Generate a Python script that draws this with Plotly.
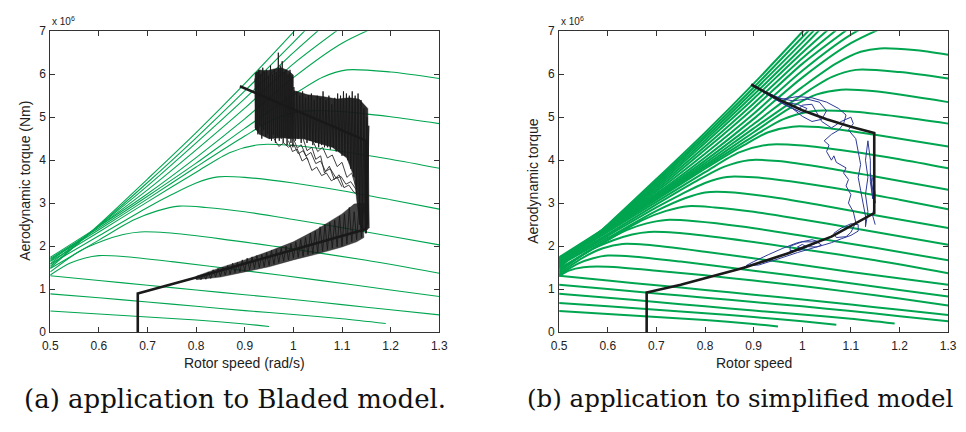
import plotly.graph_objects as go

# ---------------- data: aerodynamic torque curves (x = rotor speed rad/s, y = torque 1e6 Nm), one per wind speed
v3 = [(0.5, 0.49), (0.6, 0.42), (0.7, 0.35), (0.8, 0.28), (0.9, 0.19), (0.95, 0.13)]
v3_5 = [(0.5, 0.68), (0.6, 0.6), (0.7, 0.52), (0.8, 0.44), (0.9, 0.35), (1.0, 0.25), (1.07, 0.17)]
v4 = [(0.5, 0.89), (0.6, 0.8), (0.7, 0.7), (0.8, 0.6), (0.9, 0.5), (1.0, 0.41), (1.1, 0.31), (1.19, 0.2)]
v4_5 = [(0.5, 1.1), (0.6, 1.0), (0.7, 0.9), (0.8, 0.8), (0.9, 0.7), (1.0, 0.6), (1.1, 0.49), (1.2, 0.37), (1.3, 0.25)]
v5 = [(0.5, 1.31), (0.6, 1.2), (0.7, 1.09), (0.8, 0.98), (0.9, 0.87), (1.0, 0.76), (1.1, 0.64), (1.2, 0.52), (1.3, 0.40)]
v5_5 = [(0.5, 1.3), (0.52, 1.43), (0.55, 1.51), (0.6, 1.52), (0.7, 1.43), (0.8, 1.32), (0.9, 1.2), (1.0, 1.07),
        (1.1, 0.93), (1.2, 0.78), (1.3, 0.62)]
v6 = [(0.5, 1.33), (0.54, 1.6), (0.57, 1.72), (0.6, 1.78), (0.65, 1.76), (0.75, 1.64), (0.9, 1.43), (1.05, 1.21),
      (1.2, 0.98), (1.3, 0.83)]
v6_5 = [(0.5, 1.36), (0.55, 1.74), (0.59, 1.95), (0.63, 2.05), (0.68, 2.03), (0.8, 1.87), (0.95, 1.64), (1.1, 1.4),
        (1.3, 1.1)]
v7 = [(0.5, 1.4), (0.56, 1.88), (0.61, 2.13), (0.65, 2.27), (0.685, 2.33), (0.74, 2.31), (0.85, 2.17), (1.0, 1.93),
      (1.15, 1.67), (1.3, 1.37)]
v7_5 = [(0.5, 1.44), (0.58, 2.02), (0.64, 2.38), (0.68, 2.53), (0.72, 2.61), (0.78, 2.58), (0.88, 2.45), (1.0, 2.24),
        (1.15, 1.96), (1.3, 1.67)]
v8 = [(0.5, 1.48), (0.6, 2.14), (0.67, 2.6), (0.72, 2.82), (0.765, 2.93), (0.82, 2.9), (0.9, 2.8), (1.0, 2.62),
      (1.1, 2.43), (1.2, 2.23), (1.3, 2.03)]
v8_5 = [(0.5, 1.55), (0.6, 2.19), (0.7, 2.82), (0.76, 3.12), (0.8, 3.25), (0.86, 3.25), (0.95, 3.12), (1.05, 2.93),
        (1.15, 2.72), (1.3, 2.42)]
v9 = [(0.5, 1.58), (0.6, 2.24), (0.7, 2.9), (0.75, 3.2), (0.8, 3.47), (0.845, 3.61), (0.9, 3.6), (1.0, 3.47),
      (1.1, 3.29), (1.2, 3.08), (1.3, 2.86)]
v9_5 = [(0.5, 1.61), (0.6, 2.28), (0.7, 2.97), (0.78, 3.5), (0.84, 3.85), (0.89, 4.0), (0.95, 3.98), (1.05, 3.82),
        (1.15, 3.62), (1.3, 3.31)]
v10 = [(0.5, 1.64), (0.6, 2.33), (0.7, 3.03), (0.8, 3.72), (0.87, 4.18), (0.93, 4.36), (1.0, 4.34), (1.1, 4.2),
       (1.2, 4.02), (1.3, 3.81)]
v10_5 = [(0.5, 1.67), (0.6, 2.36), (0.7, 3.08), (0.8, 3.8), (0.88, 4.35), (0.93, 4.65), (0.98, 4.78), (1.05, 4.75),
         (1.15, 4.59), (1.3, 4.32)]
v11 = [(0.5, 1.69), (0.6, 2.38), (0.7, 3.1), (0.8, 3.84), (0.9, 4.56), (0.96, 4.95), (1.02, 5.14), (1.1, 5.13),
       (1.2, 5.01), (1.3, 4.85)]
v11_5 = [(0.5, 1.7), (0.6, 2.4), (0.7, 3.13), (0.8, 3.88), (0.9, 4.65), (0.98, 5.25), (1.03, 5.53), (1.08, 5.64),
         (1.15, 5.6), (1.3, 5.35)]
v12 = [(0.5, 1.71), (0.6, 2.42), (0.7, 3.16), (0.8, 3.93), (0.9, 4.74), (1.0, 5.52), (1.06, 5.93), (1.11, 6.1),
       (1.2, 6.05), (1.3, 5.9)]
v12_5 = [(0.5, 1.72), (0.6, 2.44), (0.7, 3.19), (0.8, 3.99), (0.9, 4.84), (1.0, 5.7), (1.07, 6.25), (1.12, 6.52),
         (1.16, 6.6), (1.23, 6.56), (1.3, 6.45)]
v13 = [(0.5, 1.74), (0.6, 2.46), (0.7, 3.22), (0.8, 4.06), (0.9, 4.96), (1.0, 5.92), (1.1, 6.72), (1.2, 7.25)]
v13_5 = [(0.5, 1.7), (0.6, 2.46), (0.7, 3.27), (0.8, 4.15), (0.9, 5.08), (1.0, 6.08), (1.1, 6.92), (1.2, 7.5)]
v14 = [(0.5, 1.66), (0.6, 2.46), (0.7, 3.31), (0.8, 4.24), (0.9, 5.21), (1.0, 6.24), (1.1, 7.1)]
v14_5 = [(0.5, 1.62), (0.6, 2.46), (0.7, 3.36), (0.8, 4.32), (0.9, 5.32), (1.0, 6.37), (1.1, 7.3)]
v15 = [(0.5, 1.59), (0.6, 2.47), (0.7, 3.4), (0.8, 4.4), (0.9, 5.43), (1.0, 6.5), (1.1, 7.5)]
v15_5 = [(0.5, 1.56), (0.6, 2.47), (0.7, 3.44), (0.8, 4.46), (0.9, 5.52), (1.0, 6.62), (1.05, 7.2)]
v16 = [(0.5, 1.53), (0.6, 2.48), (0.7, 3.48), (0.8, 4.52), (0.9, 5.61), (1.0, 6.74), (1.05, 7.32)]
v16_5 = [(0.5, 1.51), (0.6, 2.49), (0.7, 3.52), (0.8, 4.58), (0.9, 5.69), (1.0, 6.86), (1.05, 7.45)]
v17 = [(0.5, 1.49), (0.6, 2.5), (0.7, 3.56), (0.8, 4.64), (0.9, 5.78), (1.0, 6.98), (1.05, 7.6)]

left_curves = [v3, v4, v5, v6, v7, v8, v9, v10, v11, v12, v13, v14, v15, v16, v17]
right_curves = [v3, v3_5, v4, v4_5, v5, v5_5, v6, v6_5, v7, v7_5, v8, v8_5, v9, v9_5, v10, v10_5,
                v11, v11_5, v12, v12_5, v13, v13_5, v14, v14_5, v15, v15_5, v16, v16_5, v17]

# reference (controller) trajectories
ref_a_x = [0.68, 0.68, 0.8, 1.15, 1.15, 0.89]
ref_a_y = [0.0, 0.9, 1.27, 2.4, 4.45, 5.72]
ref_b_x = [0.68, 0.68, 0.75, 0.88, 0.97, 1.06, 1.148, 1.148, 1.1, 1.05, 1.0, 0.95, 0.895]
ref_b_y = [0.0, 0.92, 1.1, 1.5, 1.83, 2.22, 2.77, 4.63, 4.78, 4.95, 5.16, 5.42, 5.76]

# Bladed simulation: outline of the densest part of the trace (upper block + vertical band)
bladed_core = [
    (0.921, 4.75), (0.921, 6.02), (0.93, 6.1), (0.945, 6.08), (0.96, 6.12), (0.975, 6.15), (0.99, 6.08), (1.0, 5.98),
    (1.0, 5.62), (1.03, 5.52), (1.06, 5.48), (1.09, 5.42), (1.115, 5.45), (1.135, 5.42), (1.153, 5.2), (1.156, 2.42),
    (1.14, 2.35), (1.132, 2.9), (1.125, 3.6), (1.11, 4.05), (1.08, 4.3), (1.05, 4.4), (1.02, 4.5), (1.0, 4.5),
    (0.975, 4.52), (0.95, 4.5), (0.93, 4.6),
]
# Bladed simulation: outline of the lower (partial-load) band
bladed_band = [
    (0.8, 1.3), (0.85, 1.5), (0.9, 1.68), (0.95, 1.88), (1.0, 2.1), (1.05, 2.4), (1.1, 2.75), (1.125, 2.98),
    (1.14, 3.0), (1.145, 2.2), (1.13, 2.1), (1.1, 1.98), (1.05, 1.82), (1.0, 1.68), (0.95, 1.52), (0.9, 1.4),
    (0.85, 1.28), (0.8, 1.22),
]
# Bladed simulation trace strokes
bladed = [
    (0.921, 5.9), (0.923, 4.7), (0.925, 6.05), (0.927, 4.6), (0.929, 6.1), (0.931, 4.8), (0.933, 6.0), (0.935, 4.5),
    (0.937, 6.15), (0.939, 4.7), (0.941, 6.05), (0.943, 4.55), (0.945, 6.1), (0.947, 4.6), (0.949, 5.95), (0.951, 4.5),
    (0.953, 6.2), (0.955, 4.45), (0.957, 6.0), (0.959, 4.6), (0.961, 6.1), (0.963, 4.4), (0.965, 6.05), (0.967, 4.55),
    (0.969, 6.5), (0.971, 4.45), (0.973, 6.2), (0.975, 4.5), (0.977, 6.3), (0.979, 4.4), (0.981, 6.05), (0.983, 4.55),
    (0.985, 6.1), (0.987, 4.35), (0.989, 6.0), (0.991, 4.5), (0.993, 6.1), (0.995, 4.4), (0.997, 5.95), (0.999, 4.3),
    (1.001, 5.7), (1.004, 4.45), (1.007, 5.6), (1.010, 4.5), (1.013, 5.5), (1.016, 4.4), (1.019, 5.6), (1.022, 4.5),
    (1.025, 5.45), (1.028, 4.4), (1.031, 5.5), (1.034, 4.45), (1.037, 5.55), (1.040, 4.35), (1.043, 5.4), (1.046, 4.4),
    (1.049, 5.5), (1.052, 4.3), (1.055, 5.45), (1.058, 4.35), (1.061, 5.6), (1.064, 4.3), (1.067, 5.4), (1.070, 4.3),
    (1.073, 5.5), (1.076, 4.25), (1.079, 5.3), (1.082, 4.3), (1.085, 5.45), (1.088, 4.2), (1.091, 5.55), (1.094, 4.2),
    (1.097, 5.5), (1.100, 4.1), (1.103, 5.6), (1.106, 4.1), (1.109, 5.55), (1.112, 4.0), (1.115, 5.5), (1.118, 3.8),
    (1.121, 5.6), (1.124, 3.6), (1.127, 5.5), (1.130, 3.2), (1.133, 5.55), (1.136, 2.5), (1.139, 5.4), (1.142, 2.4),
    (1.145, 5.2), (1.148, 2.3), (1.151, 5.0), (1.153, 2.5), (1.155, 4.8), (1.15, 2.3),
    (1.145, 3.0), (1.140, 2.2), (1.135, 2.9), (1.130, 2.15), (1.125, 2.8), (1.120, 2.1), (1.115, 2.9), (1.110, 2.05),
    (1.105, 2.75), (1.100, 2.0), (1.095, 2.7), (1.090, 1.98), (1.085, 2.6), (1.080, 1.95), (1.075, 2.55), (1.070, 1.92),
    (1.065, 2.5), (1.060, 1.88), (1.055, 2.45), (1.050, 1.85), (1.045, 2.35), (1.040, 1.82), (1.035, 2.3), (1.030, 1.8),
    (1.025, 2.2), (1.020, 1.76), (1.015, 2.15), (1.010, 1.74), (1.005, 2.1), (1.000, 1.72), (0.995, 2.05), (0.990, 1.68),
    (0.985, 2.0), (0.980, 1.65), (0.975, 1.95), (0.970, 1.62), (0.965, 1.92), (0.960, 1.58), (0.955, 1.9), (0.950, 1.55),
    (0.945, 1.85), (0.940, 1.52), (0.935, 1.8), (0.930, 1.5), (0.925, 1.78), (0.920, 1.48), (0.915, 1.75), (0.910, 1.45),
    (0.905, 1.72), (0.900, 1.42), (0.895, 1.68), (0.890, 1.4), (0.885, 1.62), (0.880, 1.38), (0.875, 1.6), (0.870, 1.35),
    (0.865, 1.55), (0.860, 1.33), (0.855, 1.5), (0.850, 1.3), (0.845, 1.48), (0.840, 1.28), (0.835, 1.45), (0.830, 1.25),
    (0.825, 1.4), (0.820, 1.23), (0.815, 1.35), (0.810, 1.22), (0.805, 1.3), (0.800, 1.24),
]
# Bladed simulation: wavy descending tails below the dense block (segments separated by None)
bladed_tails = [
    (1.0, 4.5), (1.008, 4.28), (1.016, 4.36), (1.026, 4.1), (1.036, 4.18), (1.046, 3.92), (1.056, 3.98),
    (1.066, 3.74), (1.076, 3.8), (1.088, 3.58), (1.098, 3.62), (1.108, 3.44), (1.118, 3.5), (1.13, 3.3), (None, None),
    (1.02, 4.5), (1.028, 4.22), (1.038, 4.3), (1.046, 4.02), (1.056, 4.1), (1.064, 3.7), (1.074, 3.86),
    (1.084, 3.55), (1.094, 3.66), (1.104, 3.36), (1.114, 3.42), (1.124, 3.26), (1.134, 3.2), (None, None),
    (0.99, 4.45), (0.998, 4.2), (1.008, 4.26), (1.018, 3.98), (1.028, 4.06), (1.038, 3.76), (1.048, 3.84),
    (1.058, 3.64), (1.068, 3.7), (1.078, 3.52), (1.09, 3.6), (1.1, 3.38), (None, None),
    (1.04, 4.45), (1.05, 4.2), (1.06, 4.3), (1.07, 4.05), (1.08, 4.12), (1.09, 3.85), (1.1, 3.95), (1.11, 3.6),
    (1.12, 3.7), (1.128, 3.4), (None, None),
    (0.96, 4.5), (0.97, 4.32), (0.98, 4.4), (0.99, 4.3), (1.0, 4.38), (1.01, 4.15), (1.02, 4.22), (1.03, 4.0),
]

# simplified-model simulation trace
simplified = [
    (0.875, 1.5), (0.9, 1.56), (0.93, 1.66), (0.96, 1.8), (0.99, 1.93), (1.02, 2.03), (1.035, 2.1), (1.02, 2.15),
    (0.99, 2.08), (0.96, 1.95), (0.93, 1.8), (0.9, 1.64), (0.885, 1.55), (0.91, 1.56), (0.95, 1.7), (0.99, 1.85),
    (1.02, 1.95), (1.04, 2.02), (1.03, 2.1), (1.0, 2.1), (0.975, 2.0), (0.975, 1.9), (0.995, 1.9), (1.01, 1.98),
    (1.0, 2.04), (0.99, 1.98), (1.0, 1.94), (1.005, 1.99), (1.03, 1.98), (1.06, 2.08), (1.08, 2.17), (1.1, 2.25),
    (1.115, 2.35), (1.115, 2.5), (1.1, 2.52), (1.08, 2.42), (1.065, 2.3), (1.07, 2.2), (1.09, 2.22), (1.1, 2.32),
    (1.11, 2.55), (1.105, 2.8), (1.095, 3.0), (1.1, 3.2), (1.09, 3.4), (1.095, 3.55), (1.085, 3.7), (1.09, 3.82),
    (1.07, 3.95), (1.065, 4.1), (1.06, 4.0), (1.05, 4.2), (1.055, 4.35), (1.045, 4.45), (1.06, 4.6), (1.075, 4.7),
    (1.085, 4.85), (1.09, 5.05), (1.075, 5.2), (1.05, 5.35), (1.02, 5.45), (0.99, 5.48), (0.96, 5.42), (0.93, 5.55),
    (0.905, 5.7), (0.92, 5.58), (0.95, 5.38), (0.98, 5.2), (1.0, 5.02), (1.02, 4.9), (1.04, 4.95), (1.05, 5.15),
    (1.035, 5.35), (1.01, 5.42), (0.98, 5.38), (0.95, 5.45), (0.92, 5.62), (0.94, 5.45), (0.97, 5.25), (1.0, 5.1),
    (1.01, 5.2), (0.99, 5.3), (0.96, 5.35), (0.93, 5.52), (0.91, 5.66), (0.935, 5.5), (0.965, 5.3), (0.99, 5.15),
    (1.0, 5.28), (1.02, 5.3), (1.03, 5.1), (1.04, 4.9), (1.06, 4.75), (1.08, 4.9), (1.1, 5.0), (1.105, 4.85),
    (1.095, 4.7), (1.11, 4.5), (1.115, 4.2), (1.12, 3.9), (1.115, 3.6), (1.12, 3.3), (1.125, 3.0), (1.13, 2.7),
    (1.13, 2.45), (1.135, 2.8), (1.13, 3.2), (1.135, 3.6), (1.13, 4.0), (1.135, 4.45), (1.14, 4.0), (1.14, 3.5),
    (1.145, 3.1), (1.14, 3.7), (1.145, 3.3), (1.15, 3.0), (1.145, 3.6), (1.15, 3.2), (1.145, 2.7), (1.15, 2.5),
]

x_ticks = [0.5, 0.6, 0.7, 0.8, 0.9, 1.0, 1.1, 1.2, 1.3]
x_tick_text = ["0.5", "0.6", "0.7", "0.8", "0.9", "1", "1.1", "1.2", "1.3"]
y_ticks = [0, 1, 2, 3, 4, 5, 6, 7]
y_tick_text = ["0", "1", "2", "3", "4", "5", "6", "7"]

# ---------------- figure
W, H = 966, 432
GREEN = "#00a550"
BLUE = "#2e3a96"
BLACK = "#1a1a1a"

fig = go.Figure()


def add_line(pts, xa, ya, color, width, shape="linear", fill=None, fillcolor=None):
    line = dict(color=color, width=width, shape=shape, simplify=False)
    if shape == "spline":
        line["smoothing"] = 0.8
    kw = {}
    if fill:
        kw = dict(fill=fill, fillcolor=fillcolor)
    fig.add_trace(go.Scatter(
        x=[p[0] for p in pts], y=[p[1] for p in pts], mode="lines", line=line, connectgaps=False,
        xaxis=xa, yaxis=ya, hoverinfo="skip", showlegend=False, **kw))


for c in left_curves:
    add_line(c, "x", "y", GREEN, 1.1, "spline")
for c in right_curves:
    add_line(c, "x2", "y2", GREEN, 2.0, "spline")

# left panel: dense trace areas, reference line, trace strokes
add_line(bladed_core + bladed_core[:1], "x", "y", "rgba(26,26,26,0.9)", 0.5, fill="toself",
         fillcolor="rgba(26,26,26,0.92)")
add_line(bladed_band + bladed_band[:1], "x", "y", "rgba(26,26,26,0.8)", 0.5, fill="toself",
         fillcolor="rgba(26,26,26,0.82)")
fig.add_trace(go.Scatter(x=ref_a_x, y=ref_a_y, mode="lines", line=dict(color=BLACK, width=2.6),
                         xaxis="x", yaxis="y", hoverinfo="skip", showlegend=False))
add_line(bladed, "x", "y", BLACK, 0.9)
add_line(bladed_tails, "x", "y", "#2a2a2a", 0.9)

# right panel
add_line(simplified, "x2", "y2", BLUE, 1.0)
fig.add_trace(go.Scatter(x=ref_b_x, y=ref_b_y, mode="lines", line=dict(color=BLACK, width=2.6),
                         xaxis="x2", yaxis="y2", hoverinfo="skip", showlegend=False))

tickfont = dict(family="Liberation Sans, Arial, sans-serif", size=12, color="#222")
common = dict(ticks="inside", ticklen=5, tickcolor="#333", tickwidth=1, showline=True, linecolor="#333",
              linewidth=1, mirror="ticks", showgrid=False, zeroline=False, tickfont=tickfont)
xa = dict(range=[0.5, 1.3], tickvals=x_ticks, ticktext=x_tick_text, ticklabelstandoff=2, **common)
ya = dict(range=[0, 7], tickvals=y_ticks, ticktext=y_tick_text, ticklabelstandoff=1, **common)

px = lambda p: p / W
py = lambda p: 1 - p / H
ydom = [py(336), py(25)]

fig.update_layout(
    width=W, height=H, margin=dict(l=0, r=0, t=0, b=0),
    paper_bgcolor="white", plot_bgcolor="white",
    xaxis=dict(domain=[px(43), px(439)], anchor="y", **xa),
    yaxis=dict(domain=ydom, anchor="x", **ya),
    xaxis2=dict(domain=[px(561), px(957)], anchor="y2", **xa),
    yaxis2=dict(domain=ydom, anchor="x2", **ya),
)

lab = dict(family="Liberation Sans, Arial, sans-serif", size=14, color="#222")
cap_a = dict(family="DejaVu Serif, Liberation Serif, serif", size=26, color="#111")
cap_b = dict(family="DejaVu Serif, Liberation Serif, serif", size=24.5, color="#111")
ann = [
    dict(x=px(241), y=py(368), text="Rotor speed (rad/s)", font=lab),
    dict(x=px(759), y=py(368), text="Rotor speed", font=lab),
    dict(x=px(17), y=py(180), text="Aerodynamic torque (Nm)", font=lab, textangle=-90),
    dict(x=px(535), y=py(180), text="Aerodynamic torque", font=lab, textangle=-90),
    dict(x=px(43), y=py(14), text="x 10<sup>6</sup>", font=dict(family=lab["family"], size=10, color="#222"),
         xanchor="left"),
    dict(x=px(561), y=py(14), text="x 10<sup>6</sup>", font=dict(family=lab["family"], size=10, color="#222"),
         xanchor="left"),
    dict(x=px(231), y=py(405), text="(a) application to Bladed model.", font=cap_a),
    dict(x=px(526), y=py(405), text="(b) application to simplified model", font=cap_b, xanchor="left"),
]
for a in ann:
    a.setdefault("xanchor", "center")
    a.update(xref="paper", yref="paper", showarrow=False, yanchor="middle")
    fig.add_annotation(**a)

fig.write_html("out.html")
